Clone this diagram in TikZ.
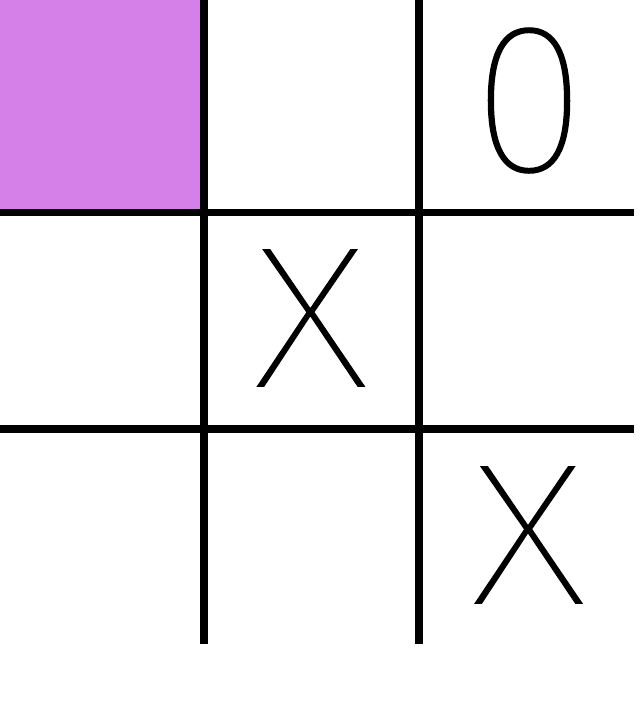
\documentclass[tikz,border=0pt]{standalone}
\usepackage{fontspec}
% thinnest face that can be found
\IfFontExistsTF{Fira Sans Thin}{%
  \newfontfamily\thinfont{Fira Sans Thin}[FakeBold=0.7]\def\piecesize{171}}{%
\IfFontExistsTF{Poppins Thin}{%
  \newfontfamily\thinfont{Poppins Thin}[FakeBold=0.7]\def\piecesize{169}}{%
\IfFontExistsTF{Lato Thin}{%
  \newfontfamily\thinfont{Lato Thin}[FakeBold=0.7]\def\piecesize{164}}{%
\IfFontExistsTF{DejaVu Sans ExtraLight}{%
  \newfontfamily\thinfont{DejaVu Sans ExtraLight}\def\piecesize{162}}{%
  \newfontfamily\thinfont{DejaVu Sans}\def\piecesize{162}}}}}
\definecolor{cellpurple}{RGB}{213,127,232}
\begin{document}
\begin{tikzpicture}[
    x=0.03cm, y=-0.03cm,
    gridline/.style={line width=6.4pt, draw=black},
    piece/.style={
        inner sep=0pt,
        font=\thinfont\fontsize{\piecesize}{\piecesize}\selectfont
    }
]
\useasboundingbox (0,0) rectangle (640,714);
\fill[white] (0,0) rectangle (640,714);
% shaded cell
\fill[cellpurple] (0,0) rectangle (204,212.5);
% board lines
\draw[gridline] (204,0) -- (204,644);
\draw[gridline] (419,0) -- (419,644);
\draw[gridline] (0,212.5) -- (634,212.5);
\draw[gridline] (0,429) -- (634,429);
% pieces
\node (topright) [piece] at (529,100.5) {\scalebox{1.04}[1.06]{0}};
\node (centre) [piece] at (311,318) {\scalebox{1.17}[1]{X}};
\node (bottomright) [piece] at (528.7,535) {\scalebox{1.17}[1]{X}};
\end{tikzpicture}
\end{document}
